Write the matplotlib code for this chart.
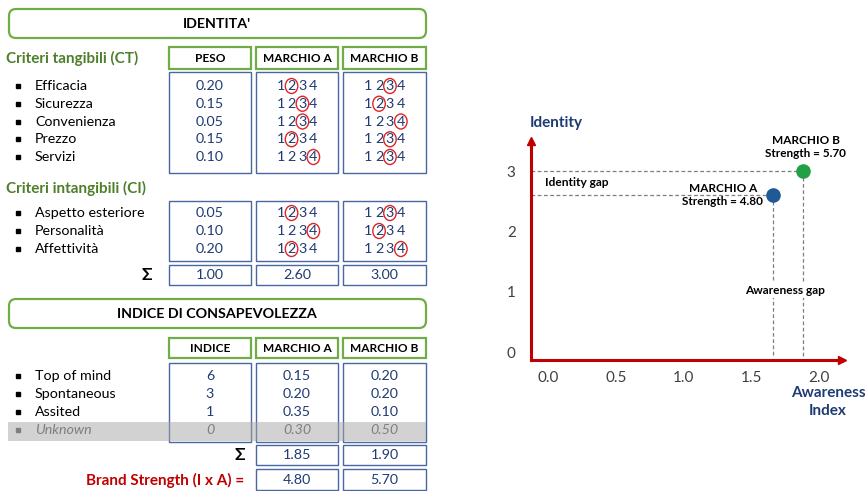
import matplotlib.pyplot as plt
from matplotlib.patches import Rectangle, FancyBboxPatch, Ellipse

plt.rcParams['font.family'] = ['Lato', 'DejaVu Sans']

# ---- data ----
criteri_ct = ["Efficacia", "Sicurezza", "Convenienza", "Prezzo", "Servizi"]
peso_ct = [0.20, 0.15, 0.05, 0.15, 0.10]
voto_a_ct = [2, 3, 3, 2, 4]
voto_b_ct = [3, 2, 4, 3, 3]

criteri_ci = ["Aspetto esteriore", "Personalità", "Affettività"]
peso_ci = [0.05, 0.10, 0.20]
voto_a_ci = [2, 4, 2]
voto_b_ci = [3, 2, 4]

somma_identita = [1.00, 2.60, 3.00]

livelli = ["Top of mind", "Spontaneous", "Assited", "Unknown"]
indice = [6, 3, 1, 0]
quota_a = [0.15, 0.20, 0.35, 0.30]
quota_b = [0.20, 0.20, 0.10, 0.50]
somma_awareness = [1.85, 1.90]
brand_strength = [4.80, 5.70]

marchi = ["MARCHIO A", "MARCHIO B"]
# positions of the points as drawn in the chart
awareness_plot = [1.66, 1.88]
identity_plot = [2.60, 3.00]
colori_marchi = ["#1F5A96", "#22A045"]

GREEN = "#70AD47"
DKGREEN = "#4E7F2A"
BLUE = "#4A67A1"
TXTBLUE = "#1F3B73"
RED = "#C00000"
FS = 10.3  # table text size

px = 1/plt.rcParams['figure.dpi']
fig = plt.figure(figsize=(868*px, 491*px), dpi=100)
ax0 = fig.add_axes([0, 0, 1, 1])
ax0.set_xlim(0, 868)
ax0.set_ylim(491, 0)
ax0.axis('off')

cols = [(169, 251), (256, 338), (343, 426)]
cx = [(a + b) / 2 for a, b in cols]


def box(x0, y0, x1, y1, color, lw):
    ax0.add_patch(Rectangle((x0, y0), x1 - x0, y1 - y0, fill=False, ec=color, lw=lw))


def title_box(y0, y1, text):
    ax0.add_patch(FancyBboxPatch((9, y0), 417, y1 - y0, boxstyle="round,pad=0,rounding_size=7",
                                 fill=False, ec=GREEN, lw=1.6))
    ax0.text(217, (y0 + y1) / 2, text, ha='center', va='center', fontsize=10.3, fontweight='bold')


def headers(y0, y1, names):
    for (a, b), name in zip(cols, names):
        box(a, y0, b, y1, GREEN, 1.6)
        ax0.text((a + b) / 2, (y0 + y1) / 2, name, ha='center', va='center', fontsize=8.6, fontweight='bold')


def data_boxes(y0, y1, which=(0, 1, 2)):
    for i in which:
        box(cols[i][0], y0, cols[i][1], y1, BLUE, 1.0)


def labels(rows, ys, color='black', style='normal'):
    for name, y in zip(rows, ys):
        ax0.plot(18, y, marker='s', ms=3.4, color=color, mec=color)
        ax0.text(35, y, name, ha='left', va='center', fontsize=FS, color=color, style=style)


def ratings(votes, col, ys):
    for v, y in zip(votes, ys):
        for k in range(1, 5):
            x = cx[col] + (k - 2.5) * 10.9
            ax0.text(x, y, str(k), ha='center', va='center', fontsize=FS, color=TXTBLUE)
            if k == v:
                ax0.add_patch(Ellipse((x, y), 12.5, 15, fill=False, ec="#E02424", lw=1.0))


# ---- IDENTITA' ----
title_box(9, 38, "IDENTITA'")
ax0.text(6, 58, "Criteri tangibili (CT)", ha='left', va='center', fontsize=11, fontweight='bold', color=DKGREEN)
headers(47, 69, ["PESO"] + marchi)

ys_ct = [86 + 17.75 * i for i in range(len(criteri_ct))]
data_boxes(72, 173)
labels(criteri_ct, ys_ct)
for p, y in zip(peso_ct, ys_ct):
    ax0.text(cx[0], y, f"{p:.2f}", ha='center', va='center', fontsize=FS, color=TXTBLUE)
ratings(voto_a_ct, 1, ys_ct)
ratings(voto_b_ct, 2, ys_ct)

ax0.text(6, 188, "Criteri intangibili (CI)", ha='left', va='center', fontsize=11, fontweight='bold', color=DKGREEN)
ys_ci = [213 + 18 * i for i in range(len(criteri_ci))]
data_boxes(201, 261)
labels(criteri_ci, ys_ci)
for p, y in zip(peso_ci, ys_ci):
    ax0.text(cx[0], y, f"{p:.2f}", ha='center', va='center', fontsize=FS, color=TXTBLUE)
ratings(voto_a_ci, 1, ys_ci)
ratings(voto_b_ci, 2, ys_ci)

data_boxes(265, 285)
ax0.text(147, 275, "Σ", ha='center', va='center', fontsize=12.5, fontweight='bold')
for i, s in enumerate(somma_identita):
    ax0.text(cx[i], 275, f"{s:.2f}", ha='center', va='center', fontsize=FS, color=TXTBLUE)

# ---- INDICE DI CONSAPEVOLEZZA ----
title_box(299, 328, "INDICE DI CONSAPEVOLEZZA")
headers(338, 358, ["INDICE"] + marchi)
ys_aw = [376 + 18 * i for i in range(len(livelli))]
data_boxes(363, 442)
for i, (name, y) in enumerate(zip(livelli, ys_aw)):
    unk = name == "Unknown"
    c = "#7F7F7F" if unk else TXTBLUE
    st = 'italic' if unk else 'normal'
    labels([name], [y], color="#7F7F7F" if unk else 'black', style=st)
    ax0.text(cx[0], y, f"{indice[i]}", ha='center', va='center', fontsize=FS, color=c, style=st)
    ax0.text(cx[1], y, f"{quota_a[i]:.2f}", ha='center', va='center', fontsize=FS, color=c, style=st)
    ax0.text(cx[2], y, f"{quota_b[i]:.2f}", ha='center', va='center', fontsize=FS, color=c, style=st)
ax0.add_patch(Rectangle((8, 422), 418, 19, color="#A6A6A6", alpha=0.5, lw=0))

data_boxes(445, 465, which=(1, 2))
ax0.text(240, 455, "Σ", ha='center', va='center', fontsize=12.5, fontweight='bold')
for i, s in enumerate(somma_awareness):
    ax0.text(cx[i + 1], 455, f"{s:.2f}", ha='center', va='center', fontsize=FS, color=TXTBLUE)

data_boxes(469, 490, which=(1, 2))
ax0.text(244, 480, "Brand Strength (I x A) =", ha='right', va='center', fontsize=11, fontweight='bold', color=RED)
for i, s in enumerate(brand_strength):
    ax0.text(cx[i + 1], 480, f"{s:.2f}", ha='center', va='center', fontsize=FS, color=TXTBLUE)

# ---- chart ----
ax = fig.add_axes([531/868, 1 - 360/491, 311/868, 219/491])
ax.patch.set_alpha(0)
x0, x1 = -0.125, 2.17
y0, y1 = -0.13, 3.5
ax.set_xlim(x0, x1)
ax.set_ylim(y0, y1)
for s in ['top', 'right']:
    ax.spines[s].set_visible(False)
for s in ['left', 'bottom']:
    ax.spines[s].set_color(RED)
    ax.spines[s].set_linewidth(2.2)
ax.plot(1, 0, '>', color=RED, ms=6, transform=ax.transAxes, clip_on=False)
ax.plot(0, 1, '^', color=RED, ms=6, transform=ax.transAxes, clip_on=False)

ax.set_xticks([0, 0.5, 1.0, 1.5, 2.0])
ax.set_xticklabels(["0.0", "0.5", "1.0", "1.5", "2.0"])
ax.set_yticks([0, 1, 2, 3])
ax.set_xticks([0.5, 1.0, 1.5, 2.0], minor=True)
ax.set_yticks([1, 2], minor=True)
ax.tick_params(which='major', length=0, labelsize=11, labelcolor='#404040')
ax.tick_params(axis='x', which='major', pad=8)
ax.tick_params(axis='y', which='major', pad=11)
ax.tick_params(which='minor', direction='inout', length=10, width=0.8, color='#404040')

for name, xa, yi, c in zip(marchi, awareness_plot, identity_plot, colori_marchi):
    ax.plot([x0, xa], [yi, yi], ls=(0, (3, 2)), color='#7F7F7F', lw=0.9, zorder=2)
    ax.plot([xa, xa], [yi, -0.08], ls=(0, (3, 2)), color='#7F7F7F', lw=0.9, zorder=2)
    ax.plot(xa, yi, 'o', color=c, ms=9.5, zorder=4, clip_on=False)

strengths = brand_strength
ax.annotate(f"{marchi[0]}\nStrength = {strengths[0]:.2f}", (awareness_plot[0], identity_plot[0]),
            xytext=(-50, 0), textcoords='offset pixels', ha='center', va='center',
            fontsize=8.5, fontweight='bold', linespacing=1.25)
ax.annotate(f"{marchi[1]}\nStrength = {strengths[1]:.2f}", (awareness_plot[1], identity_plot[1]),
            xytext=(3, 24), textcoords='offset pixels', ha='center', va='center',
            fontsize=8.5, fontweight='bold', linespacing=1.25)

ax.text(1.75, 1.02, "Awareness gap", ha='center', va='center', fontsize=8.6, fontweight='bold',
        bbox=dict(fc='white', ec='none', pad=1.5), zorder=3)
ax.text(0.21, 2.81, "Identity gap", ha='center', va='center', fontsize=8.6, fontweight='bold', zorder=3)

fig.text(530/868, 1 - 123/491, "Identity", ha='left', va='center', fontsize=11, fontweight='bold', color=TXTBLUE)
fig.text(828/868, 1 - 402/491, "Awareness\nIndex", ha='center', va='center', fontsize=11,
         fontweight='bold', color=TXTBLUE, linespacing=1.4)

fig.savefig('out.png', dpi=100)
